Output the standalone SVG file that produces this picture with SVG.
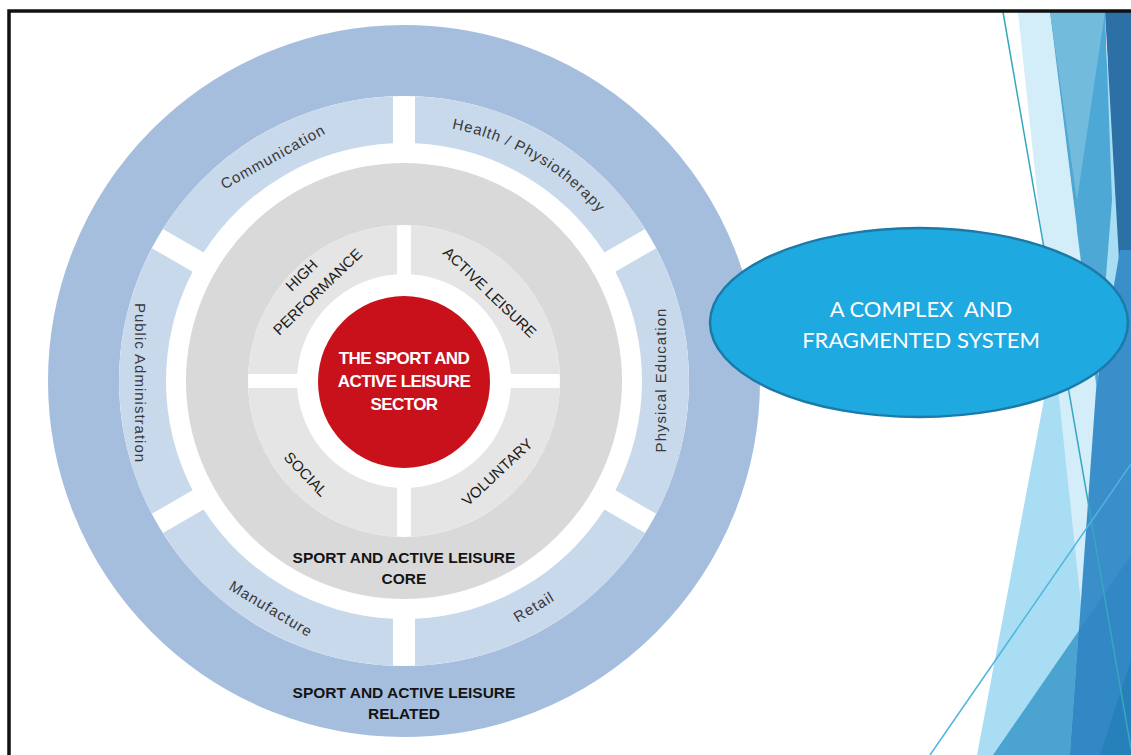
<svg xmlns="http://www.w3.org/2000/svg" width="1131" height="755" viewBox="0 0 1131 755">
<defs>
<style>
.lbl{font-family:"Liberation Sans",Arial,sans-serif;font-size:15px;fill:#383838;letter-spacing:1px;text-anchor:middle}
.q{font-family:"Liberation Sans",Arial,sans-serif;font-size:15px;fill:#1a1a1a;text-anchor:middle}
.core{font-family:"Liberation Sans",Arial,sans-serif;font-size:15.5px;font-weight:bold;fill:#141414;text-anchor:middle}
.red{font-family:"Liberation Sans",Arial,sans-serif;font-size:17px;font-weight:bold;fill:#ffffff;letter-spacing:-0.6px;text-anchor:middle}
.ell{font-family:Lato,"Open Sans",sans-serif;font-size:22px;fill:#ffffff;text-anchor:middle;white-space:pre}
.seg{fill:#c9d9ec}
.quad{fill:#e5e5e5}
</style>
<path id="healthArc" d="M381.6,125 A257,257 0 0 1 636.9,272.4" fill="none"/>
</defs>
<rect width="1131" height="755" fill="#ffffff"/>

<g id="facet-decoration">
  <polygon points="1117,12 1131,12 1131,755 977,755" fill="#a9ddf3"/>
  <polygon points="1018,12 1050,12 1131,670 1131,755 1097,755" fill="#d3edf9"/>
  <polygon points="1050,12 1105,12 1112,200 1097,390" fill="#4ea8d5"/>
  <polygon points="1050,12 1105,12 1077,200" fill="#73bbdc"/>
  <polygon points="1105,12 1131,12 1131,400 1119,260" fill="#2c70a5"/>
  <polygon points="1120,250 1131,250 1131,755 1070,755 1096,390" fill="#3a8fca"/>
  <polygon points="993,755 1078.6,631 1070,755" fill="#4aa4cf"/>
  <polygon points="1078.6,631 1131,555 1131,755 1070,755" fill="#3288c5"/>
  <polygon points="1100,755 1131,660 1131,755" fill="#2680b9"/>
  <line x1="1003" y1="12" x2="1131" y2="749" stroke="#38a6c2" stroke-width="1.5"/>
  <line x1="930" y1="755" x2="1131" y2="464" stroke="#4db5dd" stroke-width="1.5"/>
</g>

<g id="frame">
  <path d="M9,755 V11 H1131" fill="none" stroke="#111111" stroke-width="3.5"/>
</g>

<g id="related-ring">
  <circle cx="404" cy="381" r="320.5" fill="none" stroke="#a6bedd" stroke-width="71"/>
  <text class="core" x="404" y="698">SPORT AND ACTIVE LEISURE</text>
  <text class="core" x="404" y="719">RELATED</text>
</g>

<g id="seg-health">
  <path class="seg" d="M415,96.21 A285,285 0 0 1 645.13,229.07 L604.39,252.6 A238,238 0 0 0 415,143.25 Z"/>
  <text class="lbl"><textPath href="#healthArc" startOffset="50%">Health / Physiotherapy</textPath></text>
</g>
<g id="seg-physical-education">
  <path class="seg" d="M656.13,248.13 A285,285 0 0 1 656.13,513.87 L615.39,490.35 A238,238 0 0 0 615.39,271.65 Z"/>
  <text class="lbl" transform="translate(661,380) rotate(-90)" y="5">Physical Education</text>
</g>
<g id="seg-retail">
  <path class="seg" d="M645.13,532.93 A285,285 0 0 1 415,665.79 L415,618.75 A238,238 0 0 0 604.39,509.4 Z"/>
  <text class="lbl" transform="translate(534,607) rotate(-31)" y="5">Retail</text>
</g>
<g id="seg-manufacture">
  <path class="seg" d="M393,665.79 A285,285 0 0 1 162.87,532.93 L203.61,509.4 A238,238 0 0 0 393,618.75 Z"/>
  <text class="lbl" transform="translate(271,609) rotate(31)" y="5">Manufacture</text>
</g>
<g id="seg-public-administration">
  <path class="seg" d="M151.87,513.87 A285,285 0 0 1 151.87,248.13 L192.61,271.65 A238,238 0 0 0 192.61,490.35 Z"/>
  <text class="lbl" transform="translate(140,383) rotate(90)" y="5">Public Administration</text>
</g>
<g id="seg-communication">
  <path class="seg" d="M162.87,229.07 A285,285 0 0 1 393,96.21 L393,143.25 A238,238 0 0 0 203.61,252.6 Z"/>
  <text class="lbl" transform="translate(273,157) rotate(-29)" y="5">Communication</text>
</g>

<g id="core-ring">
  <circle cx="404" cy="381" r="187" fill="none" stroke="#d9d9d9" stroke-width="62"/>
  <text class="core" x="404" y="563">SPORT AND ACTIVE LEISURE</text>
  <text class="core" x="404" y="584">CORE</text>
</g>

<g id="quad-high-performance">
  <path class="quad" d="M248.16,374 A156,156 0 0 1 397,225.16 L397,274.23 A107,107 0 0 0 297.23,374 Z"/>
  <g transform="translate(310,284) rotate(-44)">
    <text class="q" x="0" y="-7">HIGH</text>
    <text class="q" x="0" y="16">PERFORMANCE</text>
  </g>
</g>
<g id="quad-active-leisure">
  <path class="quad" d="M411,225.16 A156,156 0 0 1 559.84,374 L510.77,374 A107,107 0 0 0 411,274.23 Z"/>
  <text class="q" transform="translate(490,292) rotate(44)" y="5.5">ACTIVE LEISURE</text>
</g>
<g id="quad-voluntary">
  <path class="quad" d="M559.84,388 A156,156 0 0 1 411,536.84 L411,487.77 A107,107 0 0 0 510.77,388 Z"/>
  <text class="q" transform="translate(497,472) rotate(-43)" y="5.5">VOLUNTARY</text>
</g>
<g id="quad-social">
  <path class="quad" d="M397,536.84 A156,156 0 0 1 248.16,388 L297.23,388 A107,107 0 0 0 397,487.77 Z"/>
  <text class="q" transform="translate(306,474) rotate(46)" y="5.5">SOCIAL</text>
</g>

<g id="sector">
  <circle cx="404" cy="382" r="86" fill="#c8111a"/>
  <text class="red" x="404" y="364">THE SPORT AND</text>
  <text class="red" x="404" y="387">ACTIVE LEISURE</text>
  <text class="red" x="404" y="410">SECTOR</text>
</g>

<g id="complex-system">
  <ellipse cx="919" cy="322.5" rx="209" ry="94.5" fill="#1ea9e1" stroke="#1b7aa8" stroke-width="2.5"/>
  <text class="ell" x="921" y="317">A COMPLEX  AND</text>
  <text class="ell" x="921" y="348">FRAGMENTED SYSTEM</text>
</g>

<g id="connectors"/>
</svg>
